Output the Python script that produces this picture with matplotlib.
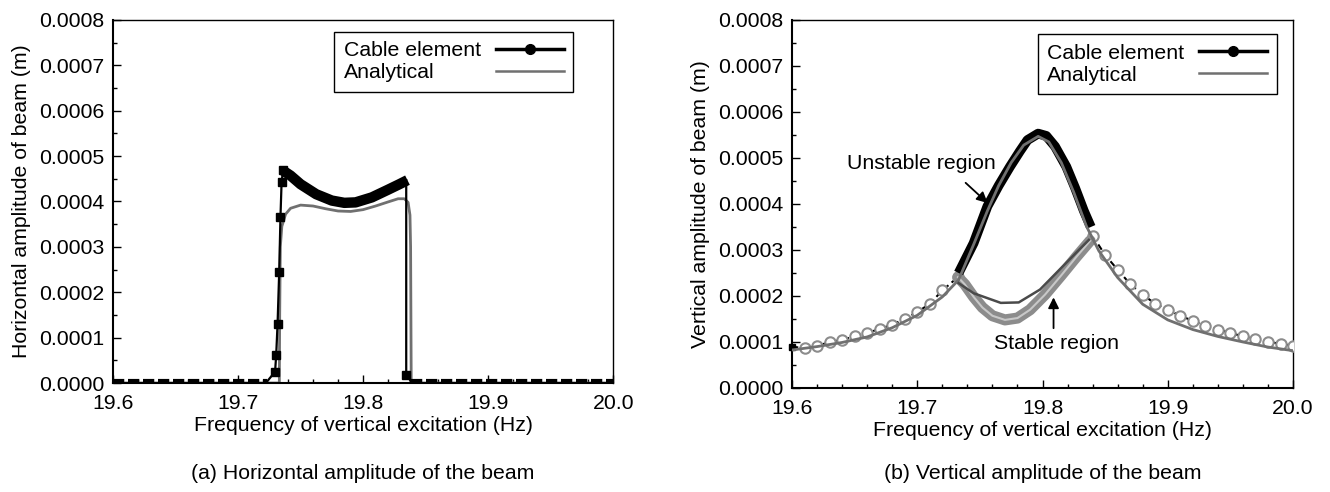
import matplotlib
matplotlib.use('Agg')
import matplotlib.pyplot as plt
from matplotlib.lines import Line2D
from matplotlib.ticker import MultipleLocator, FormatStrFormatter

plt.rcParams['font.family'] = ['Liberation Sans', 'DejaVu Sans']
plt.rcParams['font.size'] = 15.3

# ---- (a) horizontal amplitude ----
ana_a_freq = [19.600, 19.733, 19.7333, 19.7338, 19.735, 19.738, 19.742, 19.750, 19.760,
              19.770, 19.780, 19.790, 19.800, 19.810, 19.820, 19.828, 19.833, 19.836,
              19.8375, 19.838, 19.8385, 20.000]
ana_a_amp = [0, 0, 0.00015, 0.00030, 0.000345, 0.000372, 0.000385, 0.000392, 0.000390,
             0.000384, 0.000379, 0.000378, 0.000382, 0.000390, 0.000399, 0.000406,
             0.000406, 0.000398, 0.00037, 0.00030, 0, 0]

cab_a_zero1_freq = [19.600, 19.7234]
cab_a_zero1_amp = [0.000004, 0.000004]
cab_a_rise_freq = [19.7234, 19.7296, 19.7305, 19.7316, 19.7329, 19.7339, 19.7348, 19.7360]
cab_a_rise_amp = [0.000004, 0.000025, 0.000062, 0.000131, 0.000245, 0.000365, 0.000442, 0.000470]
cab_a_band_freq = [19.7360, 19.742, 19.750, 19.7625, 19.775, 19.785, 19.794, 19.807,
                   19.820, 19.829, 19.8355]
cab_a_band_amp = [0.000468, 0.000457, 0.000438, 0.000416, 0.000402, 0.000397, 0.000398,
                  0.000409, 0.000426, 0.000438, 0.000447]
cab_a_drop_freq = [19.8345, 19.8345, 19.8355, 19.838]
cab_a_drop_amp = [0.000447, 0.000018, 0.000018, 0.000004]
cab_a_zero2_freq = [19.838, 20.000]
cab_a_zero2_amp = [0.000004, 0.000004]

# ---- (b) vertical amplitude ----
ana_b_freq = [19.60, 19.62, 19.64, 19.66, 19.68, 19.70, 19.72, 19.733, 19.745, 19.756,
              19.765, 19.775, 19.785, 19.7965, 19.805, 19.815, 19.825, 19.835, 19.845,
              19.86, 19.88, 19.90, 19.92, 19.94, 19.96, 19.98, 20.00]
ana_b_amp = [0.0000826, 0.000090, 0.000099, 0.000111, 0.000131, 0.000158, 0.000198,
             0.000235, 0.000312, 0.000385, 0.000440, 0.000490, 0.000528, 0.000547,
             0.000535, 0.000490, 0.000425, 0.000352, 0.000298, 0.000240, 0.000182,
             0.000148, 0.000127, 0.000112, 0.000100, 0.000089, 0.0000811]
ana_b_mid_freq = [19.733, 19.745, 19.7667, 19.781, 19.798, 19.816, 19.837]
ana_b_mid_amp = [0.000228, 0.000206, 0.000185, 0.000186, 0.000214, 0.000264, 0.000322]

cab_b_left_freq = [19.60, 19.61, 19.62, 19.63, 19.64, 19.65, 19.66, 19.67, 19.68, 19.69,
                   19.70, 19.71, 19.72, 19.7325]
cab_b_left_amp = [0.000090, 0.0000863, 0.0000920, 0.0000993, 0.000105, 0.000112, 0.000120,
                  0.000128, 0.000138, 0.000150, 0.000165, 0.000183, 0.000212, 0.000241]
cab_b_up_freq = [19.733, 19.745, 19.756, 19.765, 19.774, 19.782, 19.788, 19.7965, 19.803,
                 19.810, 19.819, 19.826, 19.833, 19.8386]
cab_b_up_amp = [0.000250, 0.000315, 0.000395, 0.000440, 0.000481, 0.000515, 0.000539,
                0.000553, 0.000548, 0.000525, 0.000481, 0.000435, 0.000385, 0.000350]
cab_b_low_freq = [19.7325, 19.738, 19.745, 19.752, 19.760, 19.770, 19.780, 19.790, 19.802,
                  19.815, 19.827, 19.838]
cab_b_low_amp = [0.000241, 0.000225, 0.000198, 0.000175, 0.000157, 0.000148, 0.000152,
                 0.000170, 0.000203, 0.000245, 0.000285, 0.000320]
cab_b_right_freq = [19.84, 19.85, 19.86, 19.87, 19.88, 19.89, 19.90, 19.91, 19.92, 19.93,
                    19.94, 19.95, 19.96, 19.97, 19.98, 19.99, 20.00]
cab_b_right_amp = [0.000331, 0.000289, 0.000257, 0.000226, 0.000203, 0.000183, 0.000170,
                   0.000157, 0.000146, 0.000135, 0.000127, 0.000120, 0.000112, 0.000107,
                   0.000101, 0.0000957, 0.0000920]

GRAY = '#707070'
CIRC = '#8c8c8c'

fig = plt.figure(figsize=(13.3, 4.92), dpi=100)
ax1 = fig.add_axes([0.085, 0.2215, 0.376, 0.738])
ax2 = fig.add_axes([0.5955, 0.2114, 0.3767, 0.748])


def style_axes(ax, ylabel):
    ax.set_xlim(19.6, 20.0)
    ax.set_ylim(0, 0.0008)
    ax.xaxis.set_major_locator(MultipleLocator(0.1))
    ax.xaxis.set_minor_locator(MultipleLocator(0.02))
    ax.yaxis.set_major_locator(MultipleLocator(0.0001))
    ax.yaxis.set_minor_locator(MultipleLocator(0.00005))
    ax.xaxis.set_major_formatter(FormatStrFormatter('%.1f'))
    ax.yaxis.set_major_formatter(FormatStrFormatter('%.4f'))
    ax.tick_params(which='both', direction='in', top=False, right=False, width=1)
    ax.tick_params(which='major', length=6, pad=6)
    ax.tick_params(axis='x', which='major', pad=8)
    ax.tick_params(which='minor', length=3)
    for s in ax.spines.values():
        s.set_linewidth(1.5)
    ax.spines['top'].set_linewidth(1.0)
    ax.spines['right'].set_linewidth(1.0)
    ax.set_xlabel('Frequency of vertical excitation (Hz)', labelpad=2)
    ax.set_ylabel(ylabel, labelpad=6)


def add_legend(ax, anchor):
    handles = [Line2D([], [], color='black', lw=2.5, marker='o', markersize=7),
               Line2D([], [], color=GRAY, lw=1.8)]
    leg = ax.legend(handles, ['Cable element', 'Analytical'], loc='upper right',
                    bbox_to_anchor=anchor, borderaxespad=0, markerfirst=False,
                    handlelength=3.2, fancybox=False, edgecolor='black', framealpha=1,
                    labelspacing=0.15, borderpad=0.45, handletextpad=0.7)
    leg.get_frame().set_linewidth(1.0)
    return leg


def left_align_labels(leg):
    # text on the left, handles pushed to the right edge of each row
    renderer = fig.canvas.get_renderer()
    for col in leg._legend_handle_box.get_children():
        rows = col.get_children()
        w = max(r.get_bbox(renderer).width for r in rows)
        for r in rows:
            r.mode = 'expand'
            r.width = w


# panel (a)
style_axes(ax1, 'Horizontal amplitude of beam (m)')
ax1.plot(ana_a_freq, ana_a_amp, color=GRAY, lw=2.0, zorder=2)
ax1.plot(cab_a_zero1_freq, cab_a_zero1_amp, color='black', lw=3, dashes=(2.7, 0.9), zorder=3)
ax1.plot(cab_a_zero2_freq, cab_a_zero2_amp, color='black', lw=3, dashes=(2.7, 0.9), zorder=3)
ax1.plot(cab_a_rise_freq, cab_a_rise_amp, color='black', lw=1.6, zorder=3)
ax1.plot(cab_a_rise_freq[1:], cab_a_rise_amp[1:], 's', color='black', markersize=6, zorder=3)
ax1.plot(cab_a_band_freq, cab_a_band_amp, color='black', lw=7.5, solid_capstyle='butt', zorder=3)
ax1.plot(cab_a_drop_freq, cab_a_drop_amp, color='black', lw=1.6, zorder=3)
ax1.plot(cab_a_drop_freq[1:2], cab_a_drop_amp[1:2], 's', color='black', markersize=6, zorder=3)
leg1 = add_legend(ax1, (0.92, 0.968))
fig.text(0.085 + 0.376 / 2, 0.038, '(a) Horizontal amplitude of the beam',
         ha='center', va='center')

# panel (b)
style_axes(ax2, 'Vertical amplitude of beam (m)')
ax2.plot(ana_b_freq, ana_b_amp, color=GRAY, lw=2.0, zorder=4)
ax2.plot(ana_b_mid_freq, ana_b_mid_amp, color='#4a4a4a', lw=1.8, zorder=4)
ax2.plot(cab_b_left_freq, cab_b_left_amp, color='black', lw=1.5, dashes=(3, 2), zorder=3)
ax2.plot(cab_b_left_freq[1:], cab_b_left_amp[1:], 'o', mfc='white', mec=CIRC, mew=1.5,
         markersize=7.5, zorder=3)
ax2.plot(cab_b_right_freq, cab_b_right_amp, color='black', lw=1.5, dashes=(3, 2), zorder=3)
ax2.plot(cab_b_right_freq, cab_b_right_amp, 'o', mfc='white', mec=CIRC, mew=1.5,
         markersize=7.5, zorder=3)
ax2.plot(cab_b_low_freq, cab_b_low_amp, color=CIRC, lw=8, solid_capstyle='round', zorder=3)
ax2.plot(cab_b_low_freq, cab_b_low_amp, color='#c8c8c8', lw=1.5, zorder=3)
ax2.plot(cab_b_up_freq, cab_b_up_amp, color='black', lw=7, solid_capstyle='butt', zorder=3)
ax2.plot(cab_b_left_freq[:1], cab_b_left_amp[:1], 's', color='black', markersize=5,
         clip_on=False, zorder=3)
ax2.text(19.703, 0.000489, 'Unstable region', ha='center', va='center')
ax2.annotate('', xy=(19.7562, 0.000402), xytext=(19.7386, 0.000446),
             arrowprops=dict(arrowstyle='-|>', color='black', lw=1.3,
                             shrinkA=0, shrinkB=0, mutation_scale=16))
ax2.text(19.811, 0.0000978, 'Stable region', ha='center', va='center')
ax2.annotate('', xy=(19.8088, 0.000197), xytext=(19.8088, 0.000130),
             arrowprops=dict(arrowstyle='-|>', color='black', lw=1.3,
                             shrinkA=0, shrinkB=0, mutation_scale=16))
leg2 = add_legend(ax2, (0.968, 0.962))
fig.text(0.5955 + 0.3767 / 2, 0.038, '(b) Vertical amplitude of the beam',
         ha='center', va='center')

fig.canvas.draw()
left_align_labels(leg1)
left_align_labels(leg2)

fig.savefig('out.png', dpi=100)
